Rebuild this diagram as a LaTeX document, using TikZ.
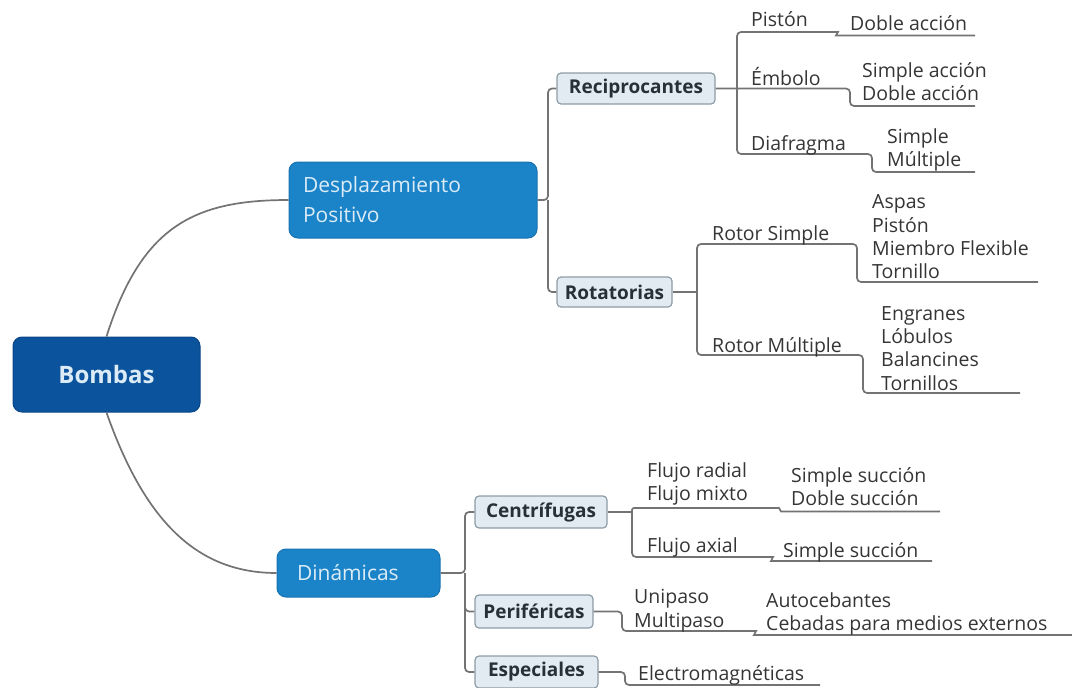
\documentclass[tikz,border=0pt]{standalone}
\usepackage{fontspec}
\setmainfont{Open Sans}
\definecolor{linec}{HTML}{737373}
\definecolor{txt}{HTML}{353535}
\definecolor{txtb}{HTML}{263036}
\definecolor{subf}{HTML}{E1EBF1}
\definecolor{subb}{HTML}{8E9CA6}
\definecolor{bomf}{HTML}{0B539D}
\definecolor{bomb}{HTML}{0A4585}
\definecolor{despf}{HTML}{1B84C8}
\definecolor{despb}{HTML}{1772B0}
\definecolor{lightt}{HTML}{DCECF7}
\begin{document}
\begin{tikzpicture}[x=1pt,y=-1pt,
  conn/.style={draw=linec, line width=1.7pt, rounded corners=4pt},
  connsmall/.style={draw=linec, line width=1.7pt, rounded corners=2pt},
  leaf/.style={anchor=base west, inner sep=0pt, font=\fontsize{19.5}{22}\selectfont, text=txt},
  subbox/.style={rectangle, rounded corners=4pt, draw=subb, fill=subf, line width=1.2pt,
    font=\bfseries\fontsize{19}{21}\selectfont, text=txtb, inner sep=0pt},
  rootbox/.style={rectangle, rounded corners=9pt, draw=bomb, fill=bomf, line width=1pt,
    font=\bfseries\fontsize{24}{28}\selectfont, text=lightt, inner sep=0pt},
  midbox/.style={rectangle, rounded corners=9pt, draw=despb, fill=despf, line width=1pt,
    font=\fontsize{21}{30}\selectfont, text=lightt, align=left}
]
\useasboundingbox (0,0) rectangle (1072,688);

% main boxes
\node[rootbox, minimum width=187pt, minimum height=75pt] (bom) at (106.5,374.5) {Bombas};
\node[midbox, text width=220pt, inner xsep=14pt, inner ysep=0pt, minimum height=76pt] (desp) at (413,200) {Desplazamiento\\Positivo};
\node[midbox, text width=123pt, inner xsep=20pt, inner ysep=0pt, minimum height=48pt] (din) at (358.5,573) {Dinámicas};

% sub boxes
\node[subbox, minimum width=158pt, minimum height=31pt] (rec) at (636,88.5) {Reciprocantes};
\node[subbox, minimum width=115pt, minimum height=30pt] (rot) at (614.5,292) {Rotatorias};
\node[subbox, minimum width=132pt, minimum height=32pt] (cen) at (541,512) {Centrífugas};
\node[subbox, minimum width=118pt, minimum height=33pt] (per) at (534,611.5) {Periféricas};
\node[subbox, minimum width=123pt, minimum height=32pt] (esp) at (536.5,672) {Especiales};

% coordinates of the buses and underlines
\coordinate (dbus) at (548,200);
\coordinate (rbus) at (737,88.5);
\coordinate (p1) at (834,32);     \coordinate (p1x) at (840,35.5);  \coordinate (p1e) at (975,35.5);
\coordinate (e1) at (850,88.5);   \coordinate (e1e) at (975,106);
\coordinate (d1) at (872,154);    \coordinate (d1e) at (975,172);
\coordinate (obus) at (697,292);
\coordinate (rs1) at (857,244);   \coordinate (rs1e) at (1038,282);
\coordinate (rm1) at (863,355);   \coordinate (rm1e) at (1020,393);
\coordinate (nbus) at (465,573);
\coordinate (cbus) at (632,512);
\coordinate (c1) at (777,508);    \coordinate (c1x) at (783,511.5); \coordinate (c1e) at (940,511.5);
\coordinate (c2) at (769,557);    \coordinate (c2x) at (775,561);   \coordinate (c2e) at (932,561);
\coordinate (pe0) at (622,611.5); \coordinate (pe1) at (752,631);   \coordinate (pe1x) at (758,635); \coordinate (pe1e) at (1075,635);
\coordinate (es0) at (625,672);   \coordinate (es1e) at (820,685);

% connectors
\draw[draw=linec, line width=1.7pt] (bom.north) .. controls +(35,-110) and +(-95,0) .. (desp.west);
\draw[draw=linec, line width=1.7pt] (bom.south) .. controls +(38,108) and +(-80,0) .. (din.west);
\draw[conn] (desp.east) -- (dbus) |- (rec.west);
\draw[conn] (dbus) |- (rot.west);
\draw[conn] (rbus) |- (p1) .. controls +(3.5,0) and +(-3.5,0) .. (p1x) -- (p1e);
\draw[conn] (rec.east) -- (e1) |- (e1e);
\draw[conn] (rbus) |- (d1) |- (d1e);
\draw[conn] (rot.east) -- (obus);
\draw[conn] (obus) |- (rs1) |- (rs1e);
\draw[conn] (obus) |- (rm1) |- (rm1e);
\draw[conn] (din.east) -- (nbus) |- (cen.west);
\draw[conn] (nbus) |- (per.west);
\draw[conn] (nbus) |- (esp.west);
\draw[conn] (cen.east) -- (cbus);
\draw[connsmall] (cbus) |- (c1) .. controls +(3.5,0) and +(-3.5,0) .. (c1x) -- (c1e);
\draw[conn] (cbus) |- (c2) .. controls +(3.5,0) and +(-3.5,0) .. (c2x) -- (c2e);
\draw[conn] (per.east) -- (pe0) |- (pe1) .. controls +(3.5,0) and +(-3.5,0) .. (pe1x) -- (pe1e);
\draw[conn] (esp.east) -- (es0) |- (es1e);

% texts
\node[leaf] (t1) at (751,27) {Pistón};
\node[leaf] (t2) at (850,30.5) {Doble acción};
\node[leaf] (t3) at (751,85) {Émbolo};
\node[leaf] (t4) at (862,77) {Simple acción};
\node[leaf] (t5) at (862,100) {Doble acción};
\node[leaf] (t6) at (751,150) {Diafragma};
\node[leaf] (t7) at (887,143) {Simple};
\node[leaf] (t8) at (887,166) {Múltiple};
\node[leaf] (t9) at (712,240) {Rotor Simple};
\node[leaf] (t10) at (872,208) {Aspas};
\node[leaf] (t11) at (872,232) {Pistón};
\node[leaf] (t12) at (872,255) {Miembro Flexible};
\node[leaf] (t13) at (872,278) {Tornillo};
\node[leaf] (t14) at (712,352) {Rotor Múltiple};
\node[leaf] (t15) at (881,320) {Engranes};
\node[leaf] (t16) at (881,343) {Lóbulos};
\node[leaf] (t17) at (881,366) {Balancines};
\node[leaf] (t18) at (881,390) {Tornillos};
\node[leaf] (t19) at (647,477) {Flujo radial};
\node[leaf] (t20) at (647,500) {Flujo mixto};
\node[leaf] (t21) at (791,482) {Simple succión};
\node[leaf] (t22) at (791,505) {Doble succión};
\node[leaf] (t23) at (647,552) {Flujo axial};
\node[leaf] (t24) at (783,557) {Simple succión};
\node[leaf] (t25) at (634,603) {Unipaso};
\node[leaf] (t26) at (634,627) {Multipaso};
\node[leaf] (t27) at (766,607) {Autocebantes};
\node[leaf] (t28) at (766,630) {Cebadas para medios externos};
\node[leaf] (t29) at (638,680) {Electromagnéticas};
\end{tikzpicture}
\end{document}
